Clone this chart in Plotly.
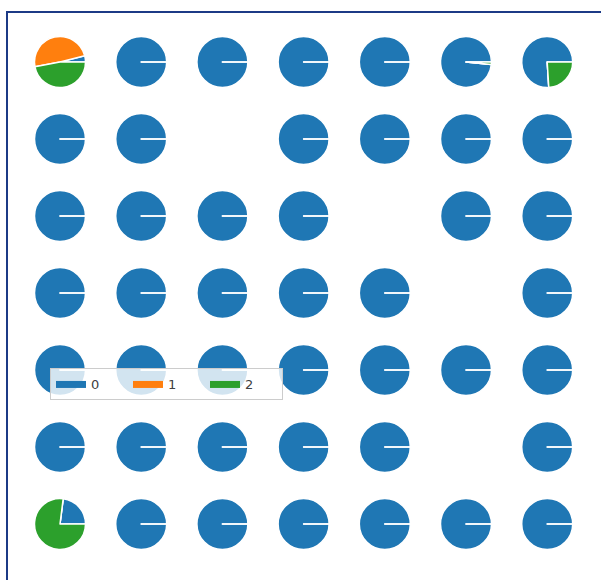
import plotly.graph_objects as go

# Class shares (%) for each cell of the 7x7 grid; None marks an empty cell.
labels = ["0", "1", "2"]
colors = ["#1f77b4", "#ff7f0e", "#2ca02c"]

share_0 = [
    [4, 100, 100, 100, 100, 98.5, 76],
    [100, 100, None, 100, 100, 100, 100],
    [100, 100, 100, 100, None, 100, 100],
    [100, 100, 100, 100, 100, None, 100],
    [100, 100, 100, 100, 100, 100, 100],
    [100, 100, 100, 100, 100, None, 100],
    [23, 100, 100, 100, 100, 100, 100],
]
share_1 = [
    [49, 0, 0, 0, 0, 0, 0],
    [0, 0, None, 0, 0, 0, 0],
    [0, 0, 0, 0, None, 0, 0],
    [0, 0, 0, 0, 0, None, 0],
    [0, 0, 0, 0, 0, 0, 0],
    [0, 0, 0, 0, 0, None, 0],
    [0, 0, 0, 0, 0, 0, 0],
]
share_2 = [
    [47, 0, 0, 0, 0, 1.5, 24],
    [0, 0, None, 0, 0, 0, 0],
    [0, 0, 0, 0, None, 0, 0],
    [0, 0, 0, 0, 0, None, 0],
    [0, 0, 0, 0, 0, 0, 0],
    [0, 0, 0, 0, 0, None, 0],
    [77, 0, 0, 0, 0, 0, 0],
]

W, H = 601, 580
# grid geometry in pixels
x_first, x_step = 60.0, 81.2
y_first, y_step = 62.0, 77.0
diam = 51.0

fig = go.Figure()

for r in range(7):
    for c in range(7):
        if share_0[r][c] is None:
            continue
        cx = x_first + c * x_step
        cy = y_first + r * y_step
        vals = [share_0[r][c], share_1[r][c], share_2[r][c]]
        # Plotly's counter-clockwise pies put the leading edge of the first
        # slice at `rotation`; shift it so class 0 starts at 3 o'clock.
        rot = 90 - 360.0 * vals[0] / sum(vals)
        fig.add_trace(go.Pie(
            labels=labels,
            values=vals,
            marker=dict(colors=colors, line=dict(color="white", width=1.5)),
            sort=False,
            direction="counterclockwise",
            rotation=rot,
            textinfo="none",
            showlegend=False,
            domain=dict(
                x=[(cx - diam / 2) / W, (cx + diam / 2) / W],
                y=[1 - (cy + diam / 2) / H, 1 - (cy - diam / 2) / H],
            ),
        ))

# legend entries drawn as filled patches
for lab, col in zip(labels, colors):
    fig.add_trace(go.Scatter(
        x=[None], y=[None], name=lab, mode="lines", fill="toself",
        fillcolor=col, line=dict(color=col, width=2),
        hoverinfo="skip",
    ))

# figure frame
fig.add_shape(type="rect", xref="paper", yref="paper",
              x0=7 / W, x1=1.02, y0=-0.02, y1=1 - 12 / H,
              line=dict(color="#1c3a86", width=2), layer="below")

fig.update_layout(
    width=W, height=H,
    margin=dict(l=0, r=0, t=0, b=0),
    paper_bgcolor="white",
    plot_bgcolor="rgba(0,0,0,0)",
    xaxis=dict(visible=False),
    yaxis=dict(visible=False),
    font=dict(family="DejaVu Sans", color="#404040"),
    legend=dict(
        orientation="h",
        x=50 / W, y=1 - 368 / H, xanchor="left", yanchor="top",
        bgcolor="rgba(255,255,255,0.8)",
        bordercolor="#cccccc", borderwidth=1,
        font=dict(size=13, color="#404040"),
        entrywidth=32, entrywidthmode="pixels",
        itemwidth=30,
        tracegroupgap=0,
    ),
)

fig.write_html("out.html")
